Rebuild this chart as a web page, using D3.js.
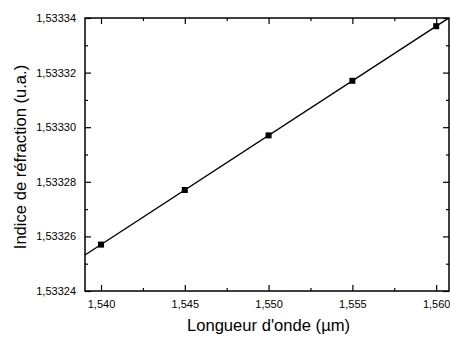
<!DOCTYPE html>
<html><head><meta charset="utf-8">
<script src="https://cdn.jsdelivr.net/npm/d3@7"></script>
<style>body{margin:0;background:#fff}svg{display:block}text{font-family:"Liberation Sans",Arial,sans-serif;fill:#000}</style>
</head><body><svg id="c" width="450" height="338"></svg>
<script>
const wavelengths = [1.540, 1.545, 1.550, 1.555, 1.560];
const indices = [1.533257, 1.533277, 1.533297, 1.533317, 1.533337];
const xTicks = [1.540, 1.545, 1.550, 1.555, 1.560];
const yTicks = [1.53324, 1.53326, 1.53328, 1.53330, 1.53332, 1.53334];
const xTitle = "Longueur d'onde (µm)";
const yTitle = "Indice de réfraction (u.a.)";

const L = 85, R = 449, T = 18, B = 291;
const svg = d3.select("#c");
const x = d3.scaleLinear().domain([1.539045, 1.560765]).range([L, R]);
const y = d3.scaleLinear().domain([1.53324, 1.53334]).range([B, T]);
const fmt = (d, n) => d.toFixed(n).replace(".", ",");

// regression line
const n = wavelengths.length;
const mx = d3.mean(wavelengths), my = d3.mean(indices);
let sxy = 0, sxx = 0;
for (let i = 0; i < n; i++) { sxy += (wavelengths[i]-mx)*(indices[i]-my); sxx += (wavelengths[i]-mx)**2; }
const slope = sxy / sxx, icpt = my - slope * mx;
const dom = x.domain();
svg.append("clipPath").attr("id","clip").append("rect").attr("x",L).attr("y",T).attr("width",R-L).attr("height",B-T);
svg.append("path").attr("clip-path","url(#clip)")
  .datum(dom.map(v => [v, icpt + slope*v]))
  .attr("d", d3.line().x(d => x(d[0])).y(d => y(d[1])))
  .attr("fill","none").attr("stroke","#000").attr("stroke-width",1.4);

svg.selectAll("rect.pt").data(wavelengths).enter().append("rect").attr("class","pt")
  .attr("x", (d) => x(d) - 3).attr("y", (d,i) => y(indices[i]) - 3)
  .attr("width", 6).attr("height", 6).attr("fill", "#000");

const xMinor = xTicks.slice(0,-1).map(d => d + 0.0025);
const yMinor = yTicks.slice(0,-1).map(d => d + 0.00001);

function ax(axis, tr) {
  const g = svg.append("g").attr("transform", tr).call(axis);
  g.select(".domain").remove();
  g.selectAll("line").attr("stroke","#000").attr("stroke-width",1.2);
  g.selectAll("text").attr("font-size","11px").style("font-family",'"Liberation Sans",Arial,sans-serif');
  return g;
}
ax(d3.axisBottom(x).tickValues(xTicks).tickSize(-6).tickPadding(9).tickFormat(d => fmt(d,3)), `translate(0,${B})`);
ax(d3.axisBottom(x).tickValues(xMinor).tickSize(-3).tickFormat(""), `translate(0,${B})`);
ax(d3.axisTop(x).tickValues(xTicks).tickSize(-6).tickFormat(""), `translate(0,${T})`);
ax(d3.axisTop(x).tickValues(xMinor).tickSize(-3).tickFormat(""), `translate(0,${T})`);
ax(d3.axisLeft(y).tickValues(yTicks).tickSize(-6).tickPadding(9).tickFormat(d => fmt(d,5)), `translate(${L},0)`);
ax(d3.axisLeft(y).tickValues(yMinor).tickSize(-3).tickFormat(""), `translate(${L},0)`);
ax(d3.axisRight(y).tickValues(yTicks).tickSize(-6).tickFormat(""), `translate(${R},0)`);
ax(d3.axisRight(y).tickValues(yMinor).tickSize(-3).tickFormat(""), `translate(${R},0)`);

svg.append("rect").attr("x",L).attr("y",T).attr("width",R-L).attr("height",B-T)
  .attr("fill","none").attr("stroke","#000").attr("stroke-width",1.5);

svg.append("text").attr("x", 268.5).attr("y", 331).attr("text-anchor","middle")
  .attr("font-size","16.6px").text(xTitle);
svg.append("text").attr("transform", `translate(26,157) rotate(-90)`).attr("text-anchor","middle")
  .attr("font-size","16.6px").text(yTitle);
</script></body></html>
